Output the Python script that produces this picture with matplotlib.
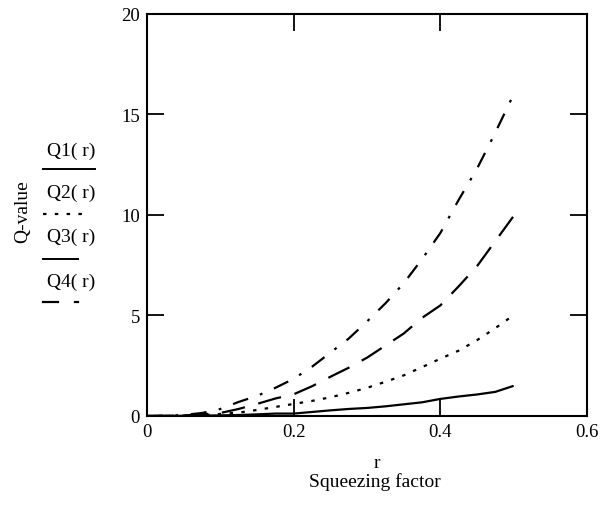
import matplotlib
matplotlib.use("Agg")
import matplotlib.pyplot as plt
from matplotlib.lines import Line2D

r = [0, 0.025, 0.05, 0.075, 0.1, 0.125, 0.15, 0.175, 0.2, 0.225, 0.25,
     0.275, 0.3, 0.325, 0.35, 0.375, 0.4, 0.425, 0.45, 0.475, 0.5]
q1 = [0, 0.005, 0.01, 0.02, 0.03, 0.05, 0.08, 0.12, 0.12, 0.2, 0.28,
      0.35, 0.4, 0.48, 0.58, 0.68, 0.85, 0.97, 1.07, 1.2, 1.5]
q2 = [0, 0.005, 0.02, 0.05, 0.1, 0.17, 0.3, 0.45, 0.6, 0.75, 0.93,
      1.15, 1.4, 1.7, 2.02, 2.43, 2.85, 3.25, 3.77, 4.37, 5.02]
q3 = [0, 0.01, 0.03, 0.08, 0.15, 0.35, 0.6, 0.87, 1.08, 1.48, 1.95,
      2.4, 2.9, 3.5, 4.1, 4.88, 5.5, 6.45, 7.45, 8.7, 9.95]
q4 = [0, 0.01, 0.05, 0.15, 0.35, 0.7, 1.0, 1.4, 1.85, 2.45, 3.15,
      3.85, 4.7, 5.6, 6.6, 7.8, 9.1, 10.75, 12.3, 14.1, 16.0]

names = ["Q1( r)", "Q2( r)", "Q3( r)", "Q4( r)"]
xticks = [0, 0.2, 0.4, 0.6]
xlabels = ["0", "0.2", "0.4", "0.6"]
yticks = [0, 5, 10, 15, 20]

plt.rcParams["font.family"] = ["Liberation Serif", "DejaVu Serif"]
plt.rcParams["lines.scale_dashes"] = False

styles = ["-", (0, (2.5, 6.0)), (0, (17, 10)), (0, (11.5, 9, 2, 9))]

fig = plt.figure(figsize=(6.07, 5.06), dpi=100)
ax = fig.add_axes([0.2422, 0.1759, 0.7248, 0.7945])

for q, ls in zip([q1, q2, q3, q4], styles):
    ax.plot(r, q, color="black", lw=1.6, linestyle=ls, solid_capstyle="butt")

ax.set_xlim(0, 0.6)
ax.set_ylim(0, 20)
ax.set_xticks(xticks)
ax.set_xticklabels(xlabels)
ax.set_yticks(yticks)
ax.tick_params(direction="in", top=True, right=True, length=12, width=1.3,
               labelsize=13.5, pad=5)
for s in ax.spines.values():
    s.set_linewidth(1.5)

# axis titles, Mathcad style
fig.text(0.621, 1 - 463 / 506, "r", ha="center", va="center", fontsize=14)
fig.text(0.618, 1 - 482 / 506, "Squeezing factor", ha="center", va="center",
         fontsize=14)
fig.text(23 / 607, 1 - 212 / 506, "Q-value", rotation=90, ha="center",
         va="center", fontsize=14)

# stacked legend with line samples
text_y = [151, 193, 237, 282]
line_y = [170, 215, 260, 303]
for name, ty in zip(names, text_y):
    fig.text(71 / 607, 1 - ty / 506, name, ha="center", va="center", fontsize=14)

W, H = 607, 506
fig.add_artist(Line2D([43 / W, 95 / W], [1 - line_y[0] / H] * 2, color="black", lw=1.4))
fig.add_artist(Line2D([43 / W, 85 / W], [1 - line_y[1] / H] * 2, color="black", lw=1.6,
                      linestyle=(0, (2.5, 6.0))))
fig.add_artist(Line2D([43 / W, 78 / W], [1 - line_y[2] / H] * 2, color="black", lw=1.4))
fig.add_artist(Line2D([43 / W, 58 / W], [1 - line_y[3] / H] * 2, color="black", lw=1.6))
fig.add_artist(Line2D([75 / W, 78 / W], [1 - line_y[3] / H] * 2, color="black", lw=1.6))

fig.savefig("out.png", dpi=100)
